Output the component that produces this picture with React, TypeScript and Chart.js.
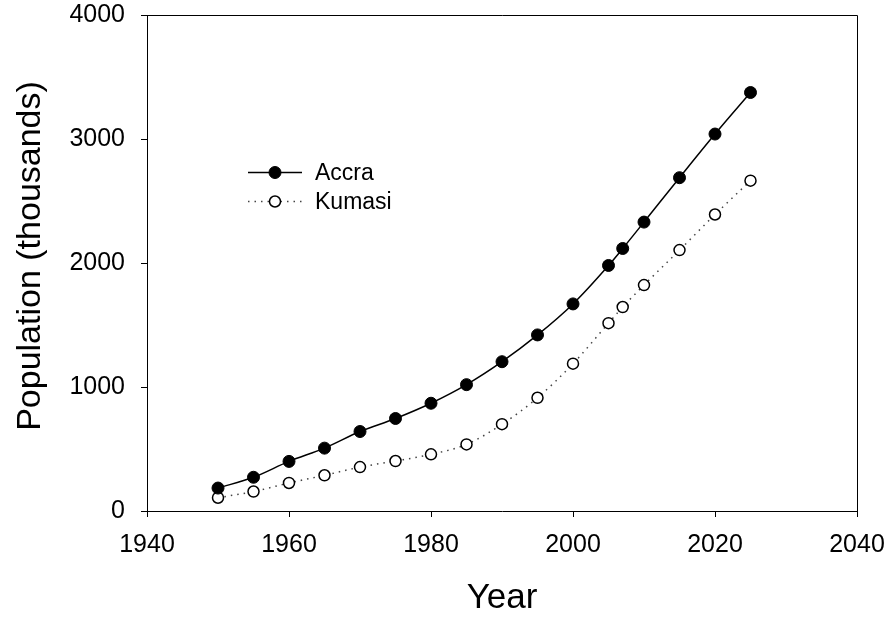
import React, { useEffect, useRef } from "react";
import { Chart, registerables } from "chart.js";

Chart.register(...registerables);

const years = [1950, 1955, 1960, 1965, 1970, 1975, 1980, 1985, 1990, 1995, 2000, 2005, 2007, 2010, 2015, 2020, 2025];
const accra = [185, 272, 400, 507, 641, 746, 869, 1019, 1204, 1420, 1670, 1980, 2117, 2330, 2688, 3040, 3375];
const kumasi = [107, 157, 226, 288, 354, 403, 457, 537, 700, 913, 1188, 1515, 1645, 1822, 2104, 2391, 2664];
const xTicks = [1940, 1960, 1980, 2000, 2020, 2040];
const yTicks = [0, 1000, 2000, 3000, 4000];
const seriesLabels = ["Accra", "Kumasi"];
const xTitle = "Year";
const yTitle = "Population (thousands)";

const FONT = "'Liberation Sans', Arial, sans-serif";

const framePlugin = {
  id: "frame",
  afterDatasetsDraw(chart: any) {
    const { ctx, chartArea } = chart;
    ctx.save();
    ctx.strokeStyle = "#000";
    ctx.lineWidth = 1;
    ctx.beginPath();
    ctx.moveTo(chartArea.left, chartArea.top + 0.5);
    ctx.lineTo(chartArea.right + 0.5, chartArea.top + 0.5);
    ctx.lineTo(chartArea.right + 0.5, chartArea.bottom);
    ctx.stroke();
    ctx.restore();
  },
};

const titlesPlugin = {
  id: "titles",
  afterDraw(chart: any) {
    const { ctx, chartArea } = chart;
    ctx.save();
    ctx.fillStyle = "#000";
    ctx.textAlign = "center";
    ctx.textBaseline = "middle";
    ctx.font = `35px ${FONT}`;
    ctx.fillText(xTitle, (chartArea.left + chartArea.right) / 2, 598);
    ctx.translate(31, 256);
    ctx.rotate(-Math.PI / 2);
    ctx.font = `34px ${FONT}`;
    ctx.fillText(yTitle, 0, 0);
    ctx.restore();
  },
};

const legendPlugin = {
  id: "customLegend",
  afterDraw(chart: any) {
    const { ctx } = chart;
    const x0 = 248;
    const x1 = 302;
    const tx = 315;
    const rows = [172.5, 201.5];
    chart.data.datasets.forEach((ds: any, i: number) => {
      const y = rows[i];
      ctx.save();
      ctx.strokeStyle = ds.borderColor;
      ctx.lineWidth = ds.borderWidth;
      ctx.setLineDash(ds.borderDash || []);
      ctx.beginPath();
      ctx.moveTo(x0, y);
      ctx.lineTo(x1, y);
      ctx.stroke();
      ctx.setLineDash([]);
      ctx.beginPath();
      ctx.arc((x0 + x1) / 2, y, ds.pointRadius, 0, Math.PI * 2);
      ctx.fillStyle = ds.pointBackgroundColor;
      ctx.fill();
      ctx.lineWidth = ds.pointBorderWidth;
      ctx.strokeStyle = ds.pointBorderColor;
      ctx.stroke();
      ctx.fillStyle = "#000";
      ctx.font = `23px ${FONT}`;
      ctx.textBaseline = "middle";
      ctx.textAlign = "left";
      ctx.fillText(ds.label, tx, y + 1);
      ctx.restore();
    });
  },
};

export default function App() {
  const ref = useRef<HTMLCanvasElement | null>(null);

  useEffect(() => {
    document.body.style.margin = "0";
    if (!ref.current) return;
    const zeroPad = (s: any) => {
      s.paddingLeft = 0;
      s.paddingRight = 0;
      s.paddingTop = 0;
      s.paddingBottom = 0;
    };
    const chart = new Chart(ref.current, {
      type: "line",
      data: {
        datasets: [
          {
            label: seriesLabels[0],
            data: years.map((x, i) => ({ x, y: accra[i] })),
            borderColor: "#000",
            borderWidth: 1.5,
            cubicInterpolationMode: "monotone",
            pointRadius: 6,
            pointBackgroundColor: "#000",
            pointBorderColor: "#000",
            pointBorderWidth: 1,
          },
          {
            label: seriesLabels[1],
            data: years.map((x, i) => ({ x, y: kumasi[i] })),
            borderColor: "#444",
            borderWidth: 1.5,
            borderDash: [1.5, 5],
            cubicInterpolationMode: "monotone",
            pointRadius: 5.5,
            pointBackgroundColor: "#fff",
            pointBorderColor: "#000",
            pointBorderWidth: 1.5,
          },
        ],
      },
      options: {
        animation: false,
        responsive: false,
        devicePixelRatio: 1,
        layout: { padding: { top: 15, right: 32, left: 0, bottom: 0 } },
        plugins: { legend: { display: false }, tooltip: { enabled: false } },
        scales: {
          x: {
            type: "linear",
            min: 1940,
            max: 2040,
            afterBuildTicks: (s: any) => {
              s.ticks = xTicks.map((v) => ({ value: v }));
            },
            afterFit: (s: any) => {
              s.height = 108;
              zeroPad(s);
            },
            ticks: {
              color: "#000",
              font: { family: FONT, size: 25 },
              padding: 13,
              maxRotation: 0,
              callback: (v: any) => String(v),
            },
            grid: { drawOnChartArea: false, drawTicks: true, tickLength: 6, color: "#000" },
            border: { display: true, color: "#000", width: 1 },
          },
          y: {
            type: "linear",
            min: 0,
            max: 4000,
            afterBuildTicks: (s: any) => {
              s.ticks = yTicks.map((v) => ({ value: v }));
            },
            afterFit: (s: any) => {
              s.width = 147;
              zeroPad(s);
            },
            ticks: {
              color: "#000",
              font: { family: FONT, size: 25 },
              padding: 16,
              callback: (v: any) => String(v),
            },
            grid: { drawOnChartArea: false, drawTicks: true, tickLength: 6, color: "#000" },
            border: { display: true, color: "#000", width: 1 },
          },
        },
      },
      plugins: [framePlugin, titlesPlugin, legendPlugin],
    } as any);
    return () => chart.destroy();
  }, []);

  return (
    <div style={{ width: 889, height: 619 }}>
      <canvas ref={ref} width={889} height={619} style={{ display: "block" }} />
    </div>
  );
}
